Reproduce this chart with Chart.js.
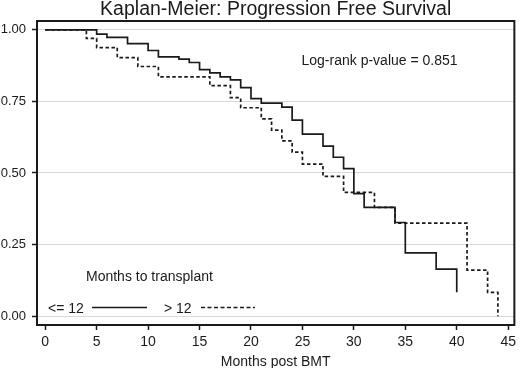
<!DOCTYPE html>
<html>
<head>
<meta charset="utf-8">
<script src="https://cdn.jsdelivr.net/npm/chart.js@4/dist/chart.umd.min.js"></script>
<style>
  html, body { margin: 0; padding: 0; background: #fff; }
</style>
</head>
<body>
<canvas id="kmChart" width="520" height="368"></canvas>
<script>
// survival steps (month of event, survival after it)
const le12Months = [0, 5, 6, 8, 10, 11, 13, 14, 15, 16, 17, 18, 19, 20, 21, 23, 24, 25, 27, 28, 29, 30, 31, 34, 35, 38, 40];
const le12Surv = [1, 0.985, 0.974, 0.952, 0.928, 0.906, 0.898, 0.886, 0.861, 0.850, 0.836, 0.825, 0.798, 0.760, 0.744, 0.730, 0.685, 0.636, 0.594, 0.555, 0.515, 0.428, 0.380, 0.327, 0.221, 0.164, 0.083];

const gt12Months = [0, 4, 5, 7, 9, 11, 16, 18, 19, 21, 22, 23, 24, 25, 27, 29, 32, 34, 41, 43, 44];
const gt12Surv = [1, 0.970, 0.938, 0.903, 0.872, 0.836, 0.805, 0.763, 0.728, 0.689, 0.650, 0.612, 0.573, 0.531, 0.488, 0.432, 0.380, 0.325, 0.161, 0.083, 0];

const xTicks = [0, 5, 10, 15, 20, 25, 30, 35, 40, 45];
const yTicks = [0, 0.25, 0.5, 0.75, 1];

const INK = '#1a1a1a';

function toPoints(months, surv) {
    return months.map((m, i) => ({ x: m, y: surv[i] }));
}

// title, p-value note, in-plot legend and frame
const extrasPlugin = {
    id: 'extras',
    afterDraw(chart) {
        const ctx = chart.ctx;
        const area = chart.chartArea;
        ctx.save();

        ctx.strokeStyle = INK;
        ctx.lineWidth = 2;
        ctx.strokeRect(area.left, area.top, area.right - area.left, area.bottom - area.top);

        ctx.fillStyle = INK;
        ctx.textBaseline = 'alphabetic';

        ctx.font = '19.5px "Liberation Sans", Arial, sans-serif';
        ctx.textAlign = 'center';
        ctx.fillText('Kaplan-Meier: Progression Free Survival', (area.left + area.right) / 2, 14.5);

        ctx.font = '14px "Liberation Sans", Arial, sans-serif';
        ctx.fillText('Months post BMT', (area.left + area.right) / 2, 365.5);

        ctx.textAlign = 'left';
        ctx.fillText('Log-rank p-value = 0.851', 301.5, 65);
        ctx.fillText('Months to transplant', 86, 281.3);
        ctx.fillText('<= 12', 48, 313.3);
        ctx.fillText('> 12', 164, 313.3);

        ctx.lineWidth = 1.6;
        ctx.beginPath();
        ctx.moveTo(92, 307.5);
        ctx.lineTo(147, 307.5);
        ctx.stroke();

        ctx.setLineDash([4, 2.5]);
        ctx.beginPath();
        ctx.moveTo(201, 307.5);
        ctx.lineTo(255, 307.5);
        ctx.stroke();

        ctx.restore();
    }
};

const kmChartConfig = {
    type: 'line',
    data: {
        datasets: [
            {
                label: '<= 12',
                data: toPoints(le12Months, le12Surv),
                stepped: 'before',
                borderColor: INK,
                borderWidth: 1.7,
                pointRadius: 0,
                fill: false
            },
            {
                label: '> 12',
                data: toPoints(gt12Months, gt12Surv),
                stepped: 'before',
                borderColor: INK,
                borderWidth: 1.7,
                borderDash: [3.5, 2.5],
                pointRadius: 0,
                fill: false
            }
        ]
    },
    options: {
        responsive: false,
        animation: false,
        devicePixelRatio: 1,
        layout: { padding: { top: 21, right: 2, left: 0, bottom: 0 } },
        plugins: {
            legend: { display: false },
            title: { display: false },
            tooltip: { enabled: false }
        },
        scales: {
            x: {
                type: 'linear',
                min: -0.8,
                max: 45.6,
                afterBuildTicks: (scale) => {
                    scale.ticks = xTicks.map(v => ({ value: v }));
                },
                afterFit: (scale) => { scale.height = 43; },
                grid: {
                    drawOnChartArea: false,
                    drawTicks: true,
                    tickLength: 5,
                    tickColor: INK,
                    tickWidth: 1.5
                },
                border: { display: false },
                ticks: {
                    color: INK,
                    padding: 4,
                    maxRotation: 0,
                    font: { family: '"Liberation Sans", Arial, sans-serif', size: 14 }
                }
            },
            y: {
                type: 'linear',
                min: -0.031,
                max: 1.031,
                afterBuildTicks: (scale) => {
                    scale.ticks = yTicks.map(v => ({ value: v }));
                },
                afterFit: (scale) => { scale.width = 37; },
                grid: {
                    color: '#d9d9d9',
                    lineWidth: 1,
                    drawTicks: true,
                    tickLength: 5,
                    tickColor: INK,
                    tickWidth: 1.5
                },
                border: { display: false },
                ticks: {
                    color: INK,
                    padding: 6,
                    callback: (v) => Number(v).toFixed(2),
                    font: { family: '"Liberation Sans", Arial, sans-serif', size: 13 }
                }
            }
        }
    },
    plugins: [extrasPlugin]
};

const ctx = document.getElementById('kmChart').getContext('2d');
new Chart(ctx, kmChartConfig);
</script>
</body>
</html>
